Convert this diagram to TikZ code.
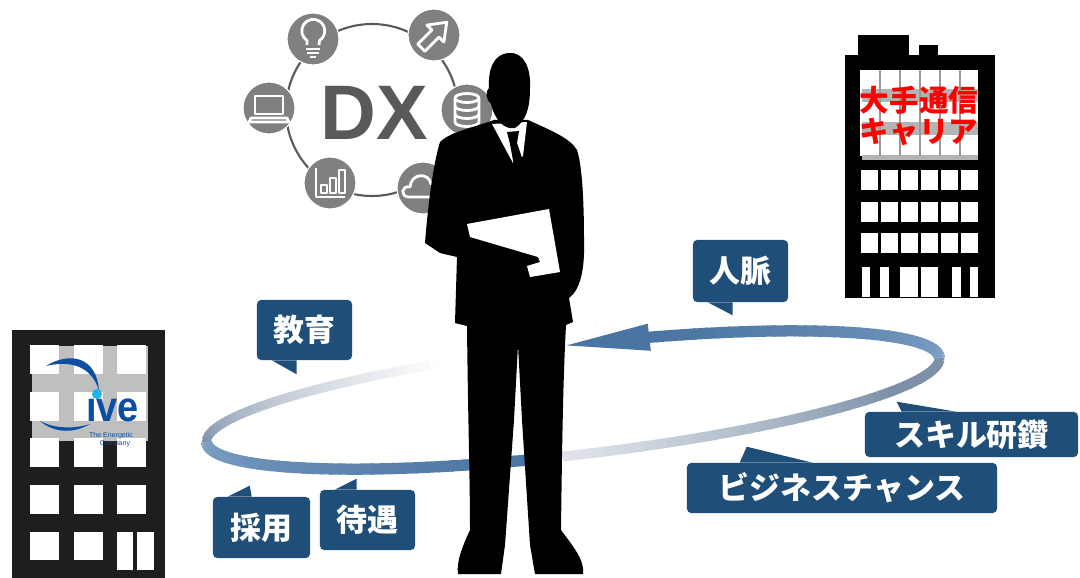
\documentclass[tikz,border=0pt]{standalone}
\usepackage{fontspec}
\newfontfamily\jpfont{Noto Sans CJK JP}
\newfontfamily\arialfont{Liberation Sans}
\usepackage{tikz}
\usetikzlibrary{positioning,calc}
\definecolor{bubbleblue}{HTML}{1F4E79}
\definecolor{ribbondark}{HTML}{4A74A2}
\definecolor{ribbonlight}{HTML}{7FA1C5}
\definecolor{ribbongray}{HTML}{7D90A8}
\definecolor{dxgray}{HTML}{595959}
\definecolor{icongray}{HTML}{808080}
\definecolor{logoblue}{HTML}{0B4EA2}
\definecolor{logocyan}{HTML}{1EB4E6}
\definecolor{bandgray}{HTML}{B4B4B4}
\definecolor{darkwall}{HTML}{1E1E1E}
\tikzset{bubble/.style={fill=bubbleblue,rounded corners=3pt,text=white,inner sep=0pt,
  font=\jpfont\bfseries\fontsize{22}{22}\selectfont},
  icon node/.style={circle,fill=icongray,draw=white,line width=0.8pt,
  minimum size=1.3cm,inner sep=0pt},
  icon line/.style={draw=white,line width=2pt,line join=round},
  window/.style={fill=white},
  ribbon/.style={line width=#1,line cap=butt}}

\begin{document}
\begin{tikzpicture}[x=0.025cm,y=-0.025cm]
\useasboundingbox (0,0) rectangle (1080,578);

% DX ring with its six icons
\draw[dxgray,line width=1.5pt] (372,110) circle[radius=86];
\node[icon node] (bulb) at (313,39) {};
\node[icon node] (growth) at (434,35) {};
\node[icon node] (laptop) at (269,108) {};
\node[icon node] (database) at (467,110) {};
\node[icon node] (chart) at (330,183) {};
\node[icon node] (cloud) at (423,188) {};

\begin{scope}[shift={(bulb)}]
  \draw[icon line] (-6,6) -- (-6,1.5) arc[start angle=123,end angle=417,radius=11.5] -- (6,6);
  \draw[icon line] (-7,10) -- (7,10) (-6,14) -- (6,14) (-3,18) -- (3,18);
\end{scope}
\begin{scope}[shift={(growth)},rotate=45]
  \draw[icon line] (-18,-5) -- (2,-5) -- (2,-12) -- (18,0) -- (2,12) -- (2,5) -- (-18,5) -- cycle;
\end{scope}
\begin{scope}[shift={(laptop)}]
  \draw[icon line] (-14,-12) rectangle (14,6);
  \draw[icon line] (-18,10) -- (18,10) -- (20,14) -- (-20,14) -- cycle;
\end{scope}
\begin{scope}[shift={(database)}]
  \draw[icon line] (0,-12) ellipse[x radius=12,y radius=4.5];
  \draw[icon line] (-12,-12) -- (-12,12) arc[start angle=180,end angle=0,x radius=12,y radius=4.5] -- (12,-12);
  \draw[icon line] (-12,-4) arc[start angle=180,end angle=0,x radius=12,y radius=4.5];
  \draw[icon line] (-12,4) arc[start angle=180,end angle=0,x radius=12,y radius=4.5];
\end{scope}
\begin{scope}[shift={(chart)}]
  \draw[icon line] (-14,-15) -- (-14,14) -- (15,14);
  \draw[icon line] (-9,2) rectangle (-3,10) (0,-5) rectangle (6,10) (9,-13) rectangle (15,10);
\end{scope}
\begin{scope}[shift={(cloud)}]
  \draw[icon line] (-14,9) .. controls (-23,9) and (-22,-3) .. (-13,-1)
    .. controls (-12,-15) and (6,-16) .. (8,-4) .. controls (18,-7) and (20,9) .. (13,9) -- cycle;
\end{scope}
\node[dxgray,font=\arialfont\bfseries\fontsize{55}{55}\selectfont] (dx) at (374,113) {DX};

% the loop round the man
\begin{scope}[shift={(573,400)},rotate=6.6]
  \foreach \t in {180,182,...,250}{
    \pgfmathtruncatemacro\f{max(0,100-100*(\t-180)/70)}
    \draw[ribbon=6.5pt,draw=ribbongray!\f!white] (\t:369 and 55) -- (\t+2.6:369 and 55);
  }
  \foreach \t in {0,2,...,90}{
    \pgfmathtruncatemacro\f{min(100,25+75*(90-\t)/60)}
    \draw[ribbon=7pt,draw=ribbongray!\f!white] (\t:369 and 55) -- (\t+2.6:369 and 55);
  }
  \foreach \t in {96,98,...,178}{
    \pgfmathtruncatemacro\f{100*(\t-96)/84}
    \draw[ribbon=8pt,draw=ribbonlight!\f!ribbondark] (\t:369 and 55) -- (\t+2.6:369 and 55);
  }
  \foreach \t in {282,284,...,358}{
    \pgfmathtruncatemacro\f{100*(\t-282)/78}
    \draw[ribbon=8pt,draw=ribbonlight!\f!ribbondark] (\t:369 and 55) -- (\t+2.6:369 and 55);
  }
  \fill[ribbondark] (270:369 and 55) -- (283:369 and 41) -- (283:369 and 69) -- cycle;
\end{scope}

% man
\fill (494,120) .. controls (472,128) and (450,132) .. (440,142)
  .. controls (433,165) and (428,205) .. (425,243)
  -- (440,253) -- (457,257) -- (455,323) -- (467,326)
  .. controls (468,420) and (470,480) .. (470,530)
  .. controls (463,545) and (456,562) .. (458,574) -- (501,574) -- (505,545)
  -- (514,420) -- (518,345) -- (522,420) -- (530,545)
  -- (535,574) -- (583,574) .. controls (585,560) and (572,545) .. (561,530)
  .. controls (562,450) and (563,380) .. (566,325) -- (573,322)
  -- (569,298) .. controls (580,290) and (585,270) .. (584,240)
  .. controls (584,200) and (582,165) .. (577,150)
  .. controls (570,138) and (550,130) .. (528,120) -- cycle;
\fill[white] (492,124) -- (527,122) -- (523,156) -- (513,163) -- cycle;
\fill (507,132) -- (519,131) -- (517,143) -- (522,158) -- (514,166) -- (510,144) -- cycle;
\fill (509,53) .. controls (524,52) and (531,68) .. (530,88)
  .. controls (530,108) and (526,121) .. (515,128)
  .. controls (504,130) and (495,120) .. (491,104)
  .. controls (486,100) and (485,91) .. (489,88)
  .. controls (488,68) and (494,54) .. (509,53) -- cycle;
\fill[white] (467,224) -- (549,209) -- (560,272) -- (530,277) -- (527,266)
  -- (540,262) -- (538,257) -- (470,237) -- cycle;

% small office
\fill[darkwall] (12,330) rectangle (165,578);
\fill[black!25] (32,346) rectangle (148,441);
\foreach \x in {30,74,117}
  \foreach \y in {345,392,438,485}
    \fill[window] (\x,\y) rectangle ++(29,29);
\foreach \x in {30,74}
  \fill[window] (\x,532) rectangle ++(29,28);
\fill[window] (117,532) rectangle (133,570);
\fill[window] (137,532) rectangle (154,570);
\fill[logoblue] (46,366) .. controls (70,351) and (97,357) .. (99,391)
  .. controls (92,366) and (70,360) .. (46,366) -- cycle;
\fill[logoblue] (40,421) .. controls (55,434) and (75,433) .. (90,424)
  .. controls (75,429) and (55,429) .. (40,421) -- cycle;
\fill[logocyan] (97,394) circle[radius=5];
\node[logoblue,anchor=west,inner sep=0pt,xscale=0.9,
  font=\arialfont\bfseries\fontsize{30}{30}\selectfont] (ive) at (86,410) {ıve};
\node[logoblue,inner sep=0pt,font=\arialfont\fontsize{5}{5}\selectfont] (energetic) at (111,436) {The Energetic};
\node[logoblue,inner sep=0pt,font=\arialfont\fontsize{5}{5}\selectfont] (company) at (115,444) {Company};

% carrier tower
\fill (845,55) rectangle (995,298);
\fill (858,35) rectangle (909,56);
\fill (919,45) rectangle (938,56);
\fill[white] (860,70) rectangle (978,156);
\fill[bandgray] (862,89) rectangle (978,102);
\fill[bandgray] (862,122) rectangle (978,135);
\fill[bandgray] (862,155) rectangle (978,160);
\foreach \x in {880,900,920,940,960}
  \draw[black!40,line width=1.2pt] (\x,70) -- (\x,156);
\foreach \x in {861,881,...,961}
  \foreach \y in {170,202,233}
    \fill[window] (\x,\y) rectangle ++(17,20);
\foreach \a/\b in {862/870,880/889,900/918,921/938,952/961,970/978}
  \fill[window] (\a,267) rectangle (\b,297);
\node[text=red,align=center,inner sep=0pt,
  font=\jpfont\bfseries\fontsize{21}{22}\selectfont] (carrier) at (919,116) {大手通信\\キャリア};

% speech bubbles
\node[bubble,minimum width=2.375cm,minimum height=1.5cm] (kyoiku) at (304.5,330) {教育};
\fill[bubbleblue] ([xshift=0.375cm]kyoiku.south west) -- ++(25,0) -- ++(0,14) -- cycle;
\node[bubble,minimum width=2.425cm,minimum height=1.525cm] (saiyo) at (261.5,527.5) {採用};
\fill[bubbleblue] ([xshift=0.375cm]saiyo.north west) -- ++(24,0) -- ++(-2,-11) -- cycle;
\node[bubble,minimum width=2.375cm,minimum height=1.5cm] (taigu) at (367.5,520) {待遇};
\fill[bubbleblue] ([xshift=0.375cm]taigu.north west) -- ++(22,0) -- ++(0,-11) -- cycle;
\node[bubble,minimum width=2.375cm,minimum height=1.55cm] (jinmyaku) at (740.5,271) {人脈};
\fill[bubbleblue] ([xshift=0.375cm]jinmyaku.south west) -- ++(25,0) -- ++(0,13) -- cycle;
\node[bubble,minimum width=5.325cm,minimum height=1.125cm] (kenshu) at (971.5,434.5) {スキル研鑽};
\fill[bubbleblue] ([xshift=0.925cm]kenshu.north west) -- ++(55,0) -- ++(-60,-10) -- cycle;
\node[bubble,minimum width=7.75cm,minimum height=1.25cm] (chance) at (842,488) {ビジネスチャンス};
\fill[bubbleblue] ([xshift=1.325cm]chance.north west) -- ++(73,0) -- ++(-66,-16) -- cycle;
\end{tikzpicture}
\end{document}
